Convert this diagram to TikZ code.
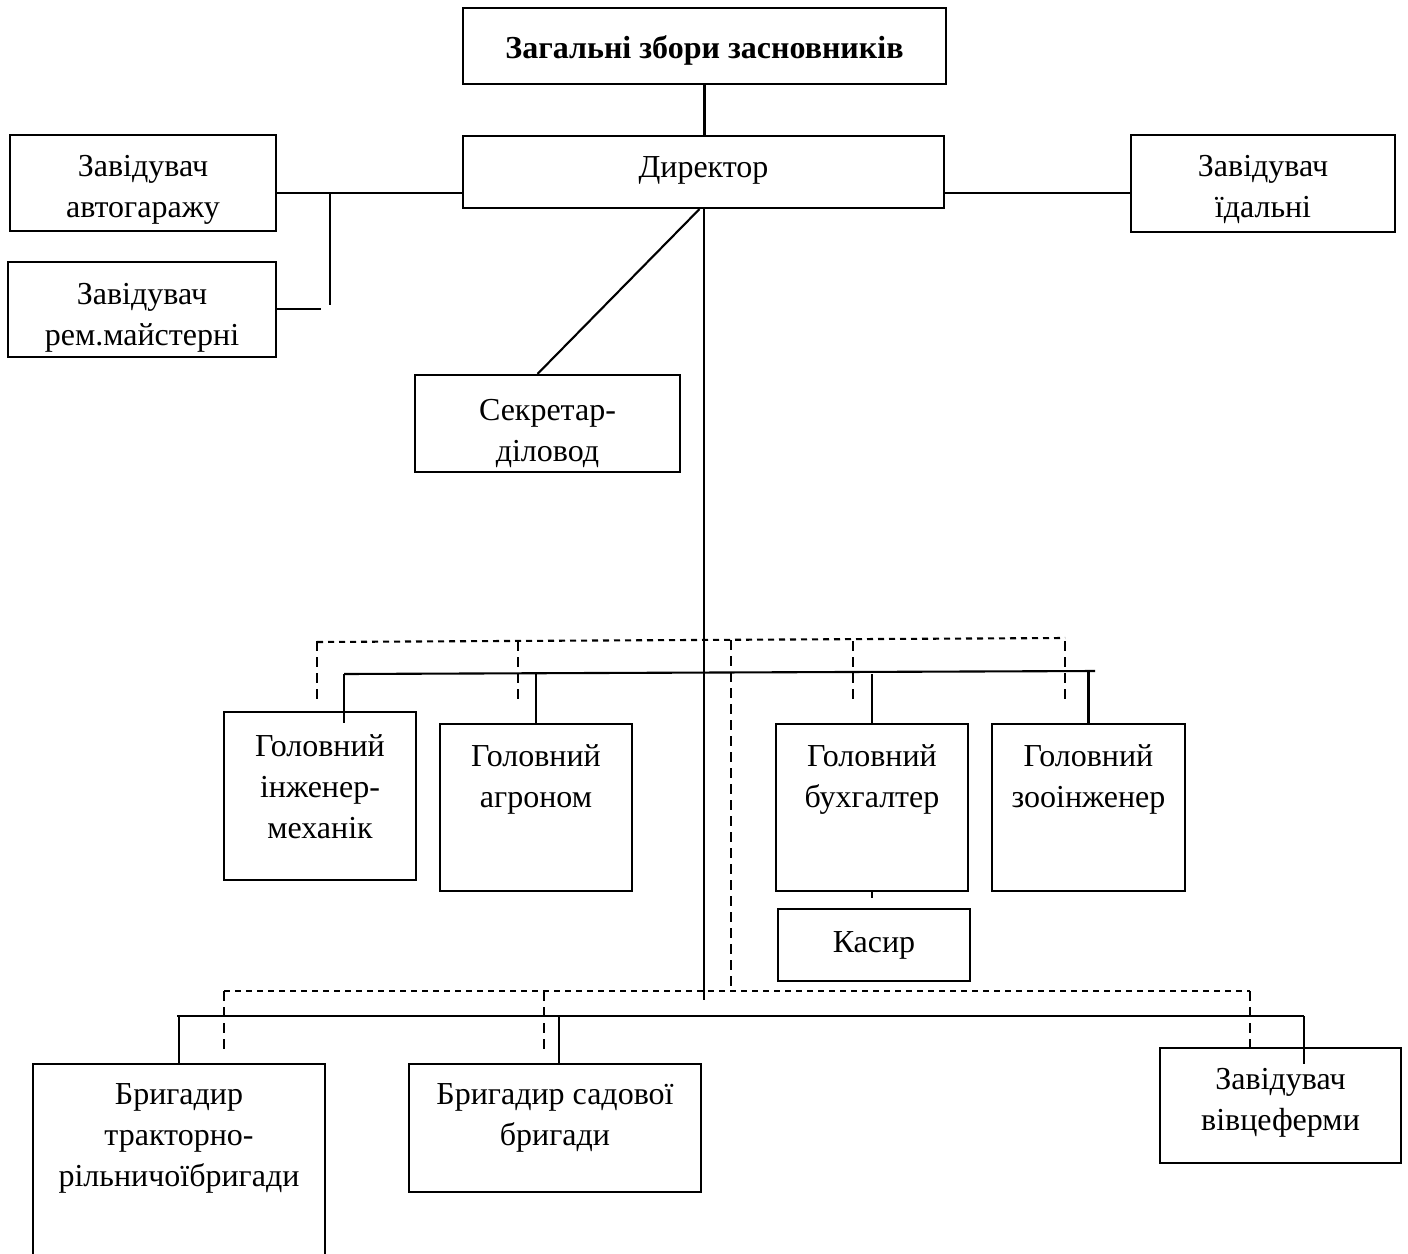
\documentclass[tikz,border=0pt]{standalone}
\usepackage{fontspec}
\setmainfont{Liberation Serif}

\begin{document}
\begin{tikzpicture}[x=1pt,y=-1pt,
    box/.style={draw, line width=2.1pt, inner sep=0pt},
    lbl/.style={inner sep=0pt, align=center, anchor=north, font=\fontsize{32}{41}\selectfont},
    wire/.style={line width=2.1pt},
    dashh/.style={line width=2.1pt, dash pattern=on 6pt off 5pt},
    dashv/.style={line width=2.1pt, dash pattern=on 10pt off 6pt}]
  \useasboundingbox (0,0) rectangle (1408,1253);
  % top level
  \node[box, minimum width=483, minimum height=76] (zbory) at (704.5,46) {};
  \node[lbl, font=\fontsize{32}{41}\selectfont\bfseries] (zboryT) at (704.5,35) {Загальні збори засновників};
  \node[box, minimum width=481, minimum height=72] (dir) at (703.5,172) {};
  \node[lbl] (dirT) at (703.5,156) {Директор};
  \node[box, minimum width=266, minimum height=96] (avto) at (143,183) {};
  \node[lbl] (avtoT) at (143,155) {Завідувач\\автогаражу};
  \node[box, minimum width=268, minimum height=95] (rem) at (142,309.5) {};
  \node[lbl] (remT) at (142,283) {Завідувач\\рем.майстерні};
  \node[box, minimum width=264, minimum height=97] (idal) at (1263,183.5) {};
  \node[lbl] (idalT) at (1263,155) {Завідувач\\їдальні};
  \node[box, minimum width=265, minimum height=97] (sekr) at (547.5,423.5) {};
  \node[lbl] (sekrT) at (547.5,399) {Секретар-\\діловод};
  % heads of services
  \node[box, minimum width=192, minimum height=168] (inz) at (320,796) {};
  \node[lbl] (inzT) at (320,734) {Головний\\інженер-\\механік};
  \node[box, minimum width=192, minimum height=167] (agr) at (536,807.5) {};
  \node[lbl] (agrT) at (536,744) {Головний\\агроном};
  \node[box, minimum width=192, minimum height=167] (buh) at (872,807.5) {};
  \node[lbl] (buhT) at (872,744) {Головний\\бухгалтер};
  \node[box, minimum width=193, minimum height=167] (zoo) at (1088.5,807.5) {};
  \node[lbl] (zooT) at (1088.5,744) {Головний\\зооінженер};
  \node[box, minimum width=192, minimum height=72] (kas) at (874,945) {};
  \node[lbl] (kasT) at (874,931) {Касир};
  % brigades
  \node[box, minimum width=292, minimum height=196] (trak) at (179,1162) {};
  \node[lbl] (trakT) at (179,1083) {Бригадир\\тракторно-\\рільничоїбригади};
  \node[box, minimum width=292, minimum height=128] (sad) at (555,1128) {};
  \node[lbl] (sadT) at (555,1083) {Бригадир садової\\бригади};
  \node[box, minimum width=241, minimum height=115] (vivc) at (1280.5,1105.5) {};
  \node[lbl] (vivcT) at (1280.5,1068) {Завідувач\\вівцеферми};
  % junction points
  \coordinate (jA) at (330,193);
  \coordinate (jB) at (330,305);
  \coordinate (jC) at (321,309);
  \coordinate (mEnd) at (704,1000);
  \coordinate (busL) at (344,674);
  \coordinate (busR) at (1095,671);
  \coordinate (inzIn) at (344,723);
  \coordinate (dL) at (317,642);
  \coordinate (dR) at (1065,638);
  \coordinate (botL) at (177,1016);
  \coordinate (botR) at (1304,1016);
  \coordinate (vivcIn) at (1304,1064);
  \coordinate (dbL) at (224,991);
  \coordinate (dbR) at (1250,991);
  % solid links
  \draw[wire] (zbory.south) -- (zbory.south |- dir.north);
  \draw[wire] (avto.east |- jA) -- (dir.west |- jA);
  \draw[wire] (jA) -- (jB);
  \draw[wire] (rem.east |- jC) -- (jC);
  \draw[wire] (dir.east |- jA) -- (idal.west |- jA);
  \draw[wire] ([xshift=-4pt]dir.south) -- ([xshift=-10pt]sekr.north);
  \draw[wire] (mEnd |- dir.south) -- (mEnd);
  \draw[wire] (busL) -- (busR);
  \draw[wire] (busL) -- (inzIn);
  \draw[wire] (agr.north |- busL) -- (agr.north);
  \draw[wire] (buh.north |- busL) -- (buh.north);
  \draw[wire] (zoo.north |- busR) -- (zoo.north);
  \draw[wire] (buh.south) -- ([yshift=10pt]buh.south |- kas.north);
  \draw[wire] (botL) -- (botR);
  \draw[wire] (trak.north |- botL) -- (trak.north);
  \draw[wire] ([xshift=4pt]sad.north |- botL) -- ([xshift=4pt]sad.north);
  \draw[wire] (botR) -- (vivcIn);
  % dashed links
  \draw[dashh] (dL) -- (dR);
  \foreach \x in {317,518,853,1065}
    \draw[dashv] (\x,641) -- (\x,701);
  \draw[dashv] (731,640) -- (731,991);
  \draw[dashh] (dbL) -- (dbR);
  \foreach \x in {224,544,1250}
    \draw[dashv] (\x,991) -- (\x,1053);
\end{tikzpicture}
\end{document}
